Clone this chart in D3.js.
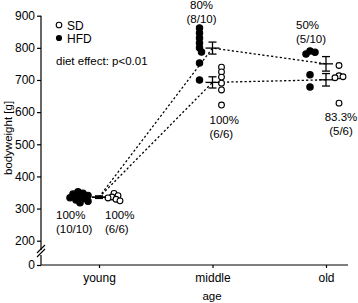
<!DOCTYPE html>
<html>
<head>
<meta charset="utf-8">
<script src="https://cdn.jsdelivr.net/npm/d3@7"></script>
<style>
  body { margin: 0; background: #fff; }
  text { font-family: "Liberation Sans", Arial, sans-serif; fill: #000; }
</style>
</head>
<body>
<svg id="chart"></svg>
<script>
// categories and tick labels
const ages = ['young', 'middle', 'old'];
const yTicks = [0, 200, 300, 400, 500, 600, 700, 800, 900];

// individual bodyweights [g]
const hfdYoung  = [352, 348, 345, 341, 338, 334, 331, 327, 323, 318];
const sdYoung   = [347, 340, 336, 333, 329, 324];
const hfdMiddle = [862, 846, 831, 815, 800, 787, 753, 700];
const sdMiddle  = [740, 725, 709, 690, 669, 622];
const hfdOld    = [790, 786, 781, 716, 678];
const sdOld     = [745, 713, 710, 707, 628];

// survival annotations
const survHFD = [['100%', '(10/10)'], ['80%', '(8/10)'], ['50%', '(5/10)']];
const survSD  = [['100%', '(6/6)'], ['100%', '(6/6)'], ['83.3%', '(5/6)']];

const groups = [
    {diet: 'HFD', values: [hfdYoung, hfdMiddle, hfdOld]},
    {diet: 'SD',  values: [sdYoung, sdMiddle, sdOld]}
];

const width = 358, height = 303;
const svg = d3.select('#chart').attr('width', width).attr('height', height);

const plotLeft = 41, plotRight = 348, plotTop = 15.7, plotBottom = 265, y200 = 240.7;

const xscale = d3.scalePoint().domain(ages).range([99, 326]);
// broken axis: 0 sits below the 200 tick
const yscale = d3.scaleLinear().domain([0, 200, 900]).range([plotBottom, y200, plotTop]);

// y axis
const yaxis = d3.axisLeft(yscale).tickValues(yTicks).tickSize(4).tickPadding(2);
const yg = svg.append('g').attr('transform', `translate(${plotLeft},0)`).call(yaxis);
yg.select('.domain').remove();
yg.selectAll('line').attr('stroke', '#000').attr('stroke-width', 1.2);
yg.selectAll('text').style('font-size', '12px').attr('fill', '#000');
svg.append('line').attr('x1', plotLeft).attr('x2', plotLeft).attr('y1', plotTop).attr('y2', 250)
    .attr('stroke', '#000').attr('stroke-width', 1.2);
svg.append('line').attr('x1', plotLeft).attr('x2', plotLeft).attr('y1', 255).attr('y2', plotBottom)
    .attr('stroke', '#000').attr('stroke-width', 1.2);
[0, 4].forEach(d => {
    svg.append('line')
        .attr('x1', plotLeft - 4).attr('y1', 253 + d)
        .attr('x2', plotLeft + 4).attr('y2', 245 + d)
        .attr('stroke', '#000').attr('stroke-width', 1.1);
});

// x axis
const xaxis = d3.axisBottom(xscale).tickSize(3).tickPadding(5);
const xg = svg.append('g').attr('transform', `translate(0,${plotBottom})`).call(xaxis);
xg.select('.domain').attr('d', `M${plotLeft},0H${plotRight}`).attr('stroke', '#000').attr('stroke-width', 1.2);
xg.selectAll('line').attr('stroke', '#000').attr('stroke-width', 1.2);
xg.selectAll('text').style('font-size', '12px').attr('fill', '#000');

svg.append('text').attr('x', 212).attr('y', 300).attr('text-anchor', 'middle')
    .style('font-size', '11.5px').text('age');
svg.append('text').attr('transform', 'rotate(-90)')
    .attr('x', -138).attr('y', 12).attr('text-anchor', 'middle')
    .style('font-size', '11.5px').text('bodyweight [g]');

// simple beeswarm, then push the swarm beside the category centre
function swarm(vals, side, minD) {
    const placed = [];
    vals.slice().sort((a, b) => b - a).forEach(v => {
        const y = yscale(v);
        for (let k = 0; k < 40; k++) {
            const dx = k % 2 ? Math.ceil(k / 2) : -k / 2;
            if (placed.every(p => Math.hypot(p.x - dx, p.y - y) >= minD)) {
                placed.push({x: dx, y: y, v: v});
                break;
            }
        }
    });
    const gap = side < 0 ? 11 : 9;
    const edge = side < 0 ? d3.max(placed, p => p.x) : d3.min(placed, p => p.x);
    placed.forEach(p => p.x = p.x - edge + side * gap);
    return placed;
}

const stats = groups.map(g => g.values.map(vals => {
    const m = d3.mean(vals);
    const sem = d3.deviation(vals) / Math.sqrt(vals.length);
    return {mean: m, sem: sem};
}));

// dashed connection of the means
const line = d3.line().x((d, i) => xscale(ages[i])).y(d => yscale(d.mean));
stats.forEach(s => {
    svg.append('path').attr('d', line(s)).attr('fill', 'none')
        .attr('stroke', '#000').attr('stroke-width', 1.3).attr('stroke-dasharray', '2.2,2.2');
});

// dots
groups.forEach(g => {
    const side = g.diet === 'HFD' ? -1 : 1;
    g.values.forEach((vals, i) => {
        const pts = swarm(vals, side, g.diet === 'HFD' ? 4.6 : 4);
        svg.append('g').selectAll('circle').data(pts).join('circle')
            .attr('cx', d => xscale(ages[i]) + d.x)
            .attr('cy', d => d.y)
            .attr('r', g.diet === 'HFD' ? 3.2 : 2.9)
            .attr('fill', g.diet === 'HFD' ? '#000' : '#fff')
            .attr('stroke', '#000').attr('stroke-width', 1.1);
    });
});

// mean +/- SEM
stats.forEach(s => {
    s.forEach((d, i) => {
        const cx = xscale(ages[i]);
        const g = svg.append('g').attr('stroke', '#000').attr('stroke-width', 1.3);
        const y0 = yscale(d.mean), yt = yscale(d.mean + d.sem), yb = yscale(d.mean - d.sem);
        g.append('line').attr('x1', cx - 7).attr('x2', cx + 7).attr('y1', y0).attr('y2', y0);
        g.append('line').attr('x1', cx).attr('x2', cx).attr('y1', yt).attr('y2', yb);
        g.append('line').attr('x1', cx - 4).attr('x2', cx + 4).attr('y1', yt).attr('y2', yt);
        g.append('line').attr('x1', cx - 4).attr('x2', cx + 4).attr('y1', yb).attr('y2', yb);
    });
});

// survival labels
const labelPos = {
    HFD: [{dx: -43, y: 219, anchor: 'start'}, {dx: -11, y: 8.5, anchor: 'middle'}, {dx: -30, y: 29, anchor: 'start'}],
    SD:  [{dx: 6, y: 219, anchor: 'start'}, {dx: -3, y: 124, anchor: 'start'}, {dx: 15, y: 121, anchor: 'middle'}]
};
[['HFD', survHFD], ['SD', survSD]].forEach(([diet, labs]) => {
    labs.forEach((l, i) => {
        const p = labelPos[diet][i];
        const t = svg.append('text').attr('text-anchor', p.anchor).style('font-size', '11.5px');
        l.forEach((s, j) => {
            t.append('tspan').attr('x', xscale(ages[i]) + p.dx).attr('y', p.y + j * 14).text(s);
        });
    });
});

// legend
svg.append('circle').attr('cx', 59).attr('cy', 25).attr('r', 2.8)
    .attr('fill', '#fff').attr('stroke', '#000').attr('stroke-width', 1.1);
svg.append('circle').attr('cx', 59).attr('cy', 38).attr('r', 3.1).attr('fill', '#000');
svg.append('text').attr('x', 67).attr('y', 29.5).style('font-size', '12px').text('SD');
svg.append('text').attr('x', 67).attr('y', 42.5).style('font-size', '12px').text('HFD');
svg.append('text').attr('x', 56).attr('y', 65).style('font-size', '11.5px').text('diet effect: p<0.01');
</script>
</body>
</html>
